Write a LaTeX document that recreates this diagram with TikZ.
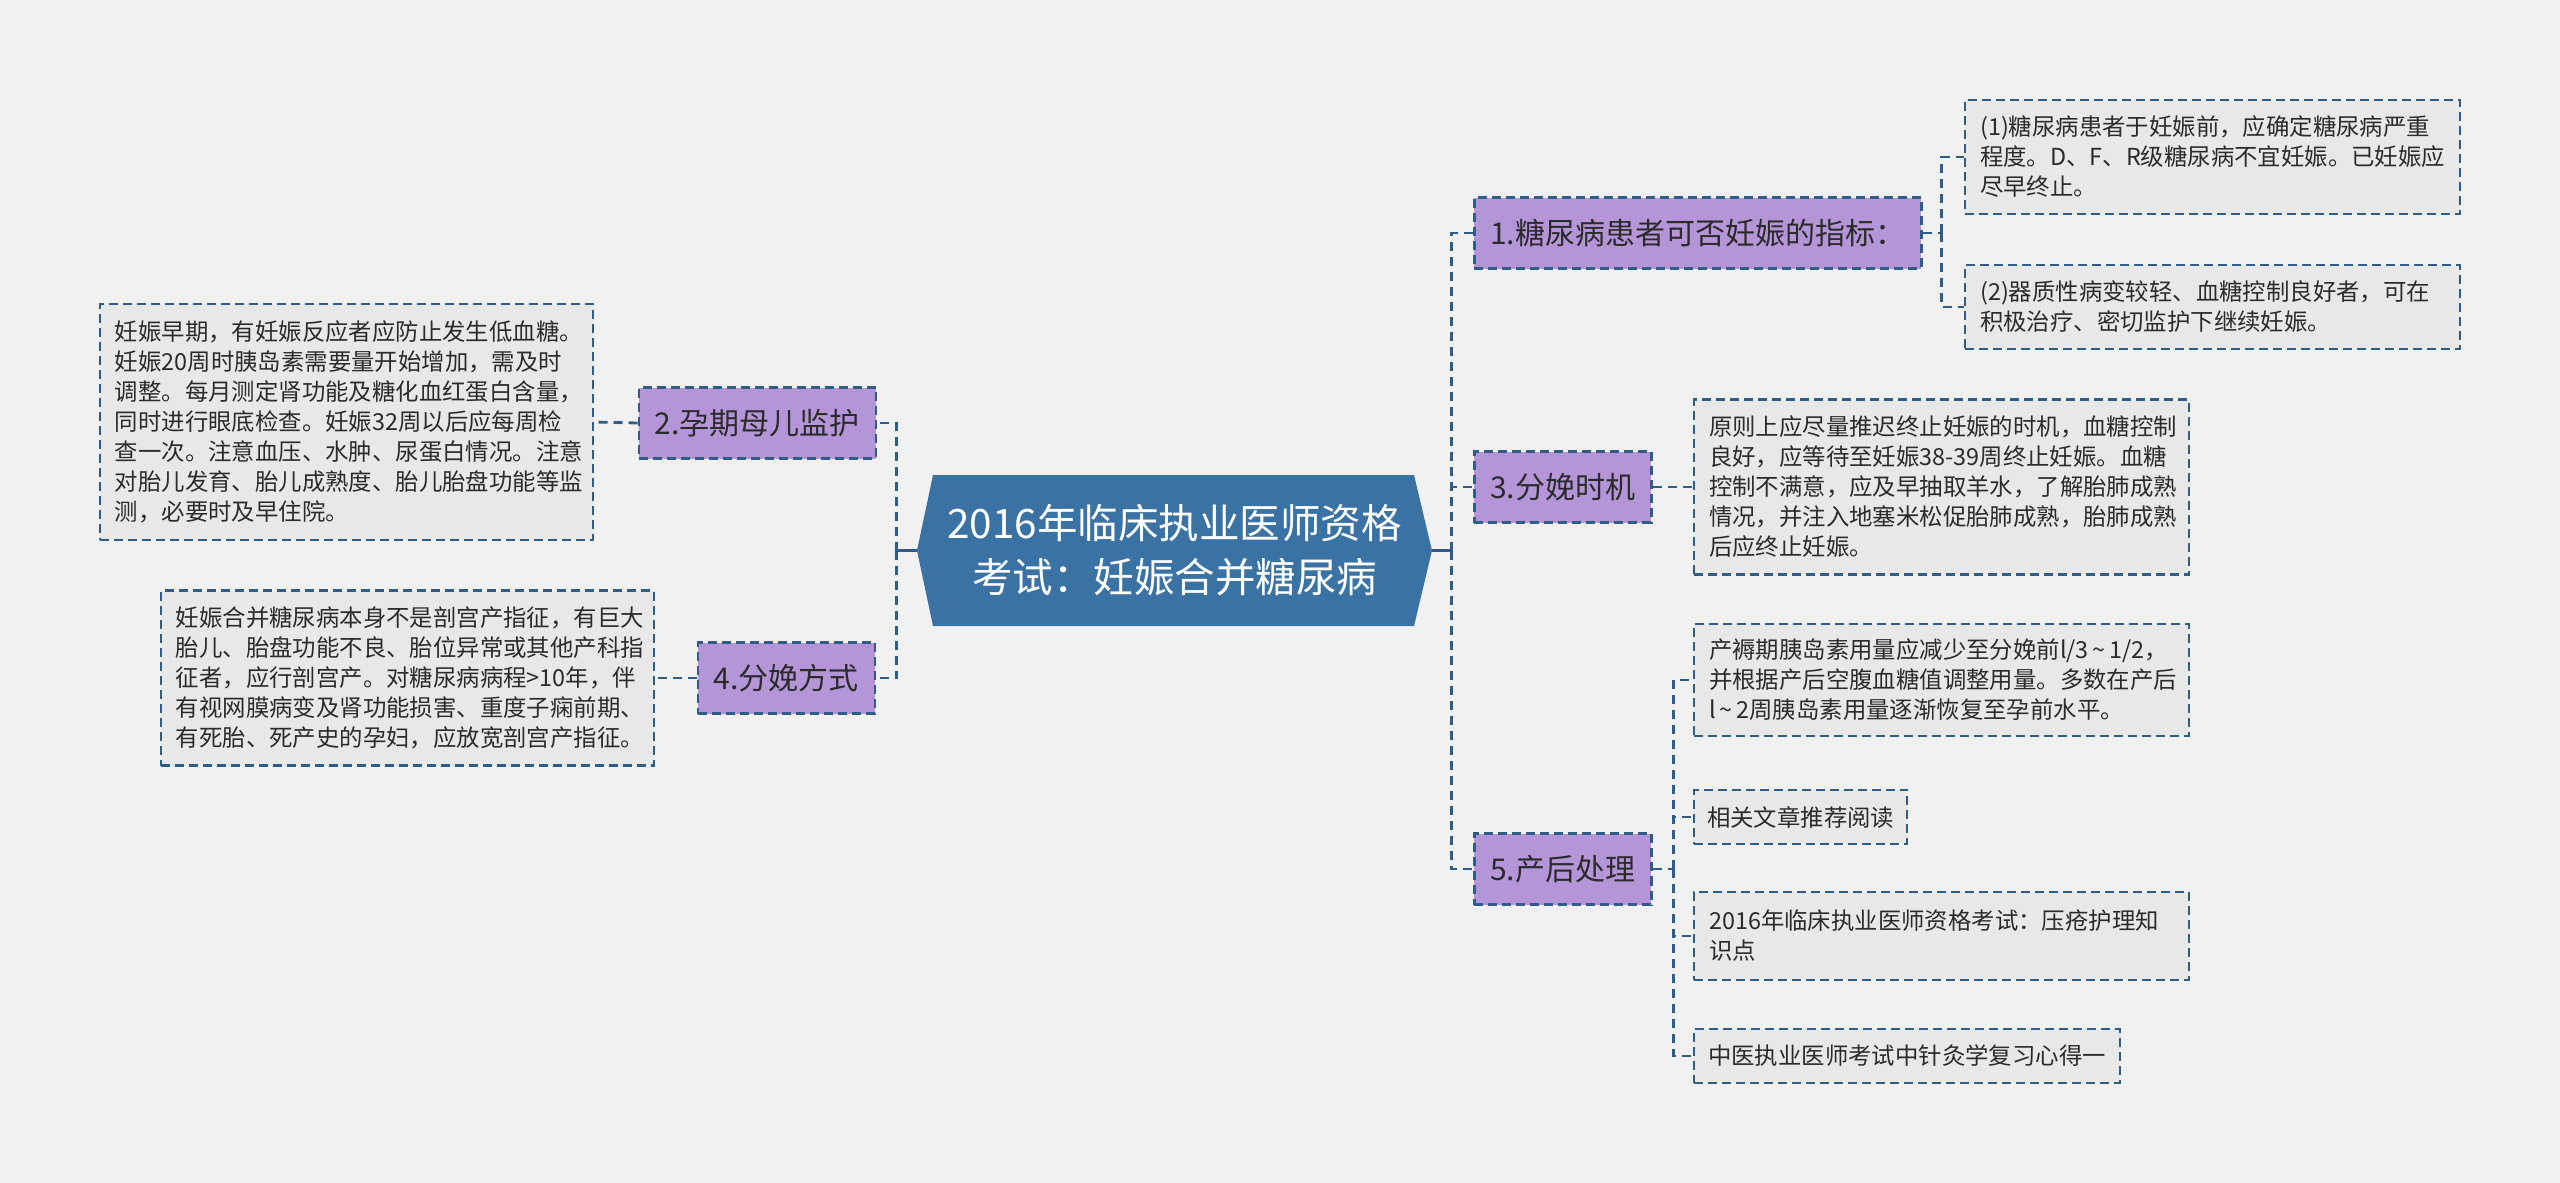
\documentclass[tikz,border=0pt]{standalone}
\usepackage{fontspec}
\setmainfont{Noto Sans CJK SC}
\definecolor{bgcol}{HTML}{F1F1F1}
\definecolor{rootcol}{HTML}{3B72A4}
\definecolor{purplecol}{HTML}{B496D8}
\definecolor{bordercol}{HTML}{2F5D87}
\definecolor{leafcol}{HTML}{E8E8E8}
\definecolor{txtcol}{HTML}{2B2B2B}
\tikzset{
  rootnode/.style={minimum width=515pt, minimum height=151pt, inner sep=0pt, text=white,
    font=\fontsize{40.5}{54}\selectfont, align=center,
    path picture={\fill[rootcol] (path picture bounding box.west)
      -- ([xshift=16pt]path picture bounding box.north west)
      -- ([xshift=-18pt]path picture bounding box.north east)
      -- (path picture bounding box.east)
      -- ([xshift=-18pt]path picture bounding box.south east)
      -- ([xshift=16pt]path picture bounding box.south west) -- cycle;}},
  topic/.style={draw=bordercol, line width=2.5pt, dash pattern=on 9pt off 5pt, fill=purplecol,
    text=txtcol, font=\fontsize{30}{36}\selectfont, inner xsep=16pt, inner ysep=0pt, minimum height=71pt},
  leaf/.style={draw=bordercol, line width=2.2pt, dash pattern=on 9pt off 5pt, fill=leafcol,
    text=txtcol, font=\fontsize{23.4}{30}\selectfont, inner xsep=15pt, inner ysep=0pt, align=left},
  conn/.style={draw=bordercol, line width=2.8pt, dash pattern=on 9pt off 6pt},
  stem/.style={draw=bordercol, line width=2.8pt},
}
\begin{document}
\begin{tikzpicture}[x=1pt,y=-1pt]
\fill[bgcol] (0,0) rectangle (2560,1183);
\useasboundingbox (0,0) rectangle (2560,1183);

\node[rootnode] (root) at (1174.5,550.5) {2016年临床执业医师资格\\考试：妊娠合并糖尿病};

\node[topic, anchor=west] (t1) at (1473,233) {1.糖尿病患者可否妊娠的指标：};
\node[topic, anchor=west] (t3) at (1473,487) {3.分娩时机};
\node[topic, anchor=west] (t5) at (1473,869) {5.产后处理};
\node[topic, anchor=east] (t2) at (877,423) {2.孕期母儿监护};
\node[topic, anchor=east] (t4) at (876,678) {4.分娩方式};

\node[leaf, anchor=east, text width=463pt, minimum height=236pt] (l2) at (594,422)
  {妊娠早期，有妊娠反应者应防止发生低血糖。\\妊娠20周时胰岛素需要量开始增加，需及时\\调整。每月测定肾功能及糖化血红蛋白含量，\\同时进行眼底检查。妊娠32周以后应每周检\\查一次。注意血压、水肿、尿蛋白情况。注意\\对胎儿发育、胎儿成熟度、胎儿胎盘功能等监\\测，必要时及早住院。};
\node[leaf, anchor=east, text width=463pt, minimum height=175pt] (l4) at (655,678)
  {妊娠合并糖尿病本身不是剖宫产指征，有巨大\\胎儿、胎盘功能不良、胎位异常或其他产科指\\征者，应行剖宫产。对糖尿病病程>10年，伴\\有视网膜病变及肾功能损害、重度子痫前期、\\有死胎、死产史的孕妇，应放宽剖宫产指征。};
\node[leaf, anchor=west, text width=465pt, minimum height=114pt] (l1a) at (1964,157)
  {(1)糖尿病患者于妊娠前，应确定糖尿病严重\\程度。D、F、R级糖尿病不宜妊娠。已妊娠应\\尽早终止。};
\node[leaf, anchor=west, text width=465pt, minimum height=84pt] (l1b) at (1964,307)
  {(2)器质性病变较轻、血糖控制良好者，可在\\积极治疗、密切监护下继续妊娠。};
\node[leaf, anchor=west, text width=465pt, minimum height=175pt] (l3) at (1693,487)
  {原则上应尽量推迟终止妊娠的时机，血糖控制\\良好，应等待至妊娠38-39周终止妊娠。血糖\\控制不满意，应及早抽取羊水，了解胎肺成熟\\情况，并注入地塞米松促胎肺成熟，胎肺成熟\\后应终止妊娠。};
\node[leaf, anchor=west, text width=465pt, minimum height=112pt] (l5a) at (1693,680)
  {产褥期胰岛素用量应减少至分娩前l/3\,\textasciitilde\,1/2，\\并根据产后空腹血糖值调整用量。多数在产后\\l\,\textasciitilde\,2周胰岛素用量逐渐恢复至孕前水平。};
\node[leaf, anchor=west, minimum height=54pt, inner xsep=13pt] (l5b) at (1693,817) {相关文章推荐阅读};
\node[leaf, anchor=west, text width=465pt, minimum height=88pt] (l5c) at (1693,936)
  {2016年临床执业医师资格考试：压疮护理知\\识点};
\node[leaf, anchor=west, minimum height=54pt, inner xsep=14pt] (l5d) at (1693,1056) {中医执业医师考试中针灸学复习心得一};

% connectors
\draw[stem] (root.east) -- ++(19,0) coordinate (rj);
\draw[conn] (rj) |- (t1.west);
\draw[conn] (rj) |- (t3.west);
\draw[conn] (rj) |- (t5.west);
\draw[stem] (root.west) -- ++(-20,0) coordinate (lj);
\draw[conn] (lj) |- (t2.east);
\draw[conn] (lj) |- (t4.east);

\draw[conn] (t1.east) -- ++(19,0) coordinate (j1);
\draw[conn] (j1) |- (l1a.west);
\draw[conn] (j1) |- (l1b.west);
\draw[conn] (t2.west) -- (l2.east);
\draw[conn] (t3.east) -- (l3.west);
\draw[conn] (t4.west) -- (l4.east);
\draw[conn] (t5.east) -- ++(21,0) coordinate (j5);
\draw[conn] (j5) |- (l5a.west);
\draw[conn] (j5) |- (l5b.west);
\draw[conn] (j5) |- (l5c.west);
\draw[conn] (j5) |- (l5d.west);
\end{tikzpicture}
\end{document}
